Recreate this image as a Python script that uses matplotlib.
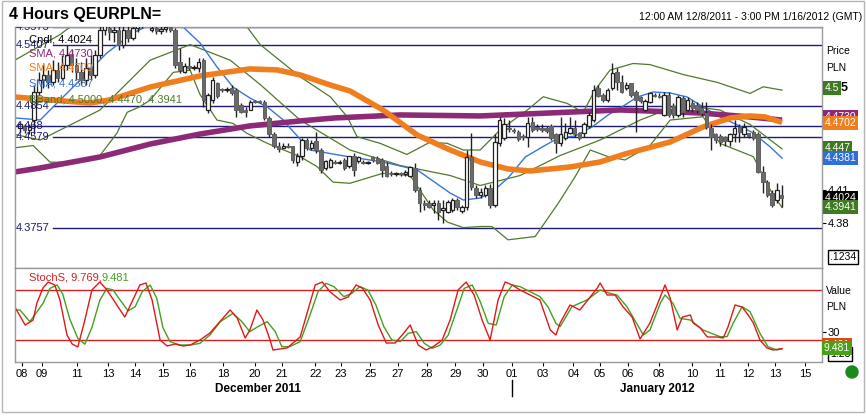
import numpy as np
import matplotlib
matplotlib.use("Agg")
import matplotlib.pyplot as plt
from matplotlib.patches import Rectangle, Ellipse
from matplotlib.lines import Line2D

plt.rcParams['font.family'] = ['Liberation Sans', 'DejaVu Sans']

# ---------------- data ----------------
opens = [4.466,4.468,4.464,4.473,4.498,4.509,4.514,4.507,4.518,4.511,
         4.523,4.532,4.523,4.516,4.509,4.520,4.514,4.532,4.554,4.556,
         4.552,4.554,4.541,4.554,4.547,4.556,4.561,4.568,4.554,4.556,
         4.553,4.555,4.557,4.554,4.525,4.516,4.522,4.520,4.520,4.527,
         4.482,4.491,4.506,4.501,4.500,4.502,4.500,4.487,4.482,4.482,
         4.490,4.490,4.489,4.475,4.460,4.450,4.448,4.450,4.450,4.435,
         4.441,4.455,4.448,4.454,4.446,4.430,4.431,4.435,4.434,4.437,
         4.432,4.441,4.436,4.435,4.434,4.440,4.439,4.437,4.432,4.425,
         4.424,4.425,4.424,4.423,4.430,4.410,4.398,4.398,4.396,4.398,
         4.392,4.390,4.392,4.401,4.391,4.395,4.440,4.412,4.405,4.405,
         4.412,4.396,4.452,4.457,4.466,4.464,4.462,4.459,4.458,4.471,
         4.467,4.466,4.466,4.468,4.460,4.452,4.457,4.461,4.466,4.461,
         4.461,4.468,4.473,4.502,4.496,4.491,4.502,4.516,4.507,4.502,
         4.506,4.498,4.494,4.482,4.489,4.496,4.495,4.478,4.496,4.486,
         4.478,4.493,4.482,4.488,4.487,4.484,4.479,4.466,4.460,4.459,
         4.458,4.454,4.460,4.467,4.460,4.461,4.462,4.460,4.426,4.417,
         4.407,4.401,4.405]
closes = [4.469,4.464,4.467,4.498,4.509,4.514,4.507,4.518,4.511,4.523,
          4.532,4.523,4.516,4.509,4.520,4.514,4.532,4.554,4.559,4.552,
          4.554,4.541,4.554,4.547,4.556,4.561,4.568,4.563,4.556,4.553,
          4.555,4.557,4.554,4.523,4.518,4.522,4.520,4.521,4.525,4.491,
          4.496,4.509,4.495,4.500,4.501,4.497,4.482,4.480,4.480,4.489,
          4.489,4.489,4.475,4.460,4.450,4.447,4.450,4.449,4.437,4.441,
          4.455,4.448,4.452,4.446,4.428,4.436,4.437,4.434,4.435,4.430,
          4.441,4.428,4.440,4.434,4.435,4.437,4.434,4.428,4.423,4.424,
          4.425,4.424,4.426,4.431,4.410,4.398,4.396,4.395,4.398,4.390,
          4.394,4.399,4.401,4.395,4.395,4.440,4.413,4.405,4.408,4.412,
          4.396,4.453,4.473,4.469,4.465,4.463,4.456,4.458,4.470,4.464,
          4.465,4.464,4.463,4.457,4.452,4.460,4.462,4.466,4.460,4.457,
          4.469,4.478,4.500,4.495,4.491,4.500,4.515,4.507,4.498,4.505,
          4.496,4.491,4.490,4.490,4.497,4.495,4.494,4.496,4.478,4.478,
          4.494,4.480,4.491,4.484,4.482,4.479,4.467,4.458,4.455,4.453,
          4.454,4.460,4.466,4.462,4.467,4.459,4.457,4.426,4.417,4.405,
          4.396,4.410,4.4024]
highs = [4.471,4.469,4.469,4.505,4.516,4.523,4.518,4.527,4.525,4.532,
         4.541,4.536,4.529,4.525,4.529,4.532,4.536,4.563,4.568,4.565,
         4.563,4.561,4.559,4.561,4.563,4.570,4.577,4.577,4.561,4.561,
         4.560,4.563,4.563,4.556,4.538,4.524,4.530,4.523,4.529,4.529,
         4.497,4.512,4.507,4.502,4.503,4.505,4.502,4.488,4.485,4.491,
         4.491,4.491,4.491,4.477,4.462,4.453,4.452,4.452,4.450,4.443,
         4.457,4.457,4.455,4.462,4.448,4.437,4.439,4.437,4.437,4.439,
         4.441,4.443,4.441,4.437,4.436,4.441,4.441,4.439,4.435,4.427,
         4.426,4.426,4.428,4.432,4.434,4.413,4.401,4.401,4.401,4.401,
         4.401,4.401,4.403,4.403,4.396,4.446,4.461,4.414,4.412,4.414,
         4.415,4.460,4.476,4.475,4.473,4.466,4.464,4.460,4.476,4.476,
         4.469,4.469,4.468,4.469,4.461,4.476,4.470,4.476,4.473,4.462,
         4.471,4.480,4.505,4.505,4.497,4.502,4.524,4.520,4.514,4.507,
         4.506,4.500,4.495,4.492,4.498,4.497,4.497,4.498,4.498,4.488,
         4.496,4.495,4.494,4.491,4.489,4.489,4.489,4.469,4.461,4.460,
         4.459,4.461,4.473,4.469,4.470,4.461,4.464,4.462,4.432,4.419,
         4.410,4.416,4.414]
lows = [4.462,4.461,4.460,4.460,4.496,4.502,4.502,4.505,4.507,4.509,
        4.518,4.516,4.509,4.505,4.505,4.509,4.511,4.529,4.550,4.545,
        4.543,4.536,4.538,4.543,4.545,4.552,4.556,4.559,4.552,4.551,
        4.551,4.552,4.552,4.520,4.515,4.515,4.518,4.518,4.516,4.485,
        4.479,4.488,4.493,4.498,4.498,4.496,4.476,4.479,4.476,4.482,
        4.488,4.488,4.473,4.458,4.448,4.444,4.448,4.448,4.434,4.432,
        4.437,4.446,4.446,4.443,4.425,4.428,4.430,4.433,4.433,4.428,
        4.430,4.423,4.434,4.433,4.433,4.435,4.433,4.422,4.422,4.423,
        4.423,4.423,4.423,4.422,4.408,4.390,4.392,4.394,4.389,4.383,
        4.380,4.389,4.390,4.392,4.389,4.392,4.410,4.403,4.403,4.404,
        4.394,4.395,4.450,4.455,4.462,4.461,4.454,4.455,4.449,4.462,
        4.463,4.462,4.461,4.455,4.443,4.450,4.455,4.460,4.458,4.455,
        4.458,4.466,4.471,4.494,4.489,4.489,4.500,4.500,4.497,4.500,
        4.494,4.462,4.488,4.481,4.488,4.494,4.493,4.477,4.476,4.475,
        4.476,4.476,4.481,4.480,4.479,4.477,4.465,4.446,4.452,4.450,
        4.450,4.450,4.453,4.453,4.458,4.457,4.455,4.425,4.407,4.404,
        4.395,4.398,4.395]

# long SMA (purple)
sma_long_x = [-1.1, 4.3, 17.0, 27.7, 38.3, 48.9, 59.6, 67.0, 80.9, 97.9, 112.8, 127.7, 144.7, 155.3, 162.1]
sma_long_y = [4.4262, 4.4298, 4.4397, 4.4514, 4.4604, 4.4677, 4.4722, 4.4749, 4.4776, 4.4767, 4.4794, 4.4821, 4.4794, 4.4758, 4.4730]
# mid SMA (orange)
sma_mid_x = [-1.1, 6.4, 14.9, 19.1, 27.7, 38.3, 48.9, 54.7, 59.6, 66.0, 70.2, 77.2, 84.5, 91.5, 97.9,
             103.8, 108.5, 117.0, 123.4, 128.7, 138.3, 145.3, 151.1, 155.3, 158.5, 162.1]
sma_mid_y = [4.4938, 4.4911, 4.4884, 4.4911, 4.5028, 4.5128, 4.5191, 4.5182, 4.5137, 4.5046, 4.4992, 4.4821,
             4.4595, 4.4460, 4.4352, 4.4289, 4.4271, 4.4307, 4.4352, 4.4424, 4.4532, 4.4668, 4.4749, 4.4767,
             4.4758, 4.4709]
# short SMA (blue)
sma_short_x = [-1.1, 4.3, 11.3, 18.5, 24.0, 27.7, 31.9, 34.7, 38.3, 41.9, 45.3, 48.9, 52.6, 56.0, 57.4, 61.7,
               70.2, 77.2, 84.5, 91.5, 94.3, 97.9, 100.4, 103.8, 107.5, 111.1, 114.5, 118.1, 121.7, 125.1,
               128.7, 131.3, 134.7, 138.3, 141.9, 145.3, 148.9, 152.6, 156.0, 159.6, 162.1]
sma_short_y = [4.4749, 4.4731, 4.5028, 4.5335, 4.5515, 4.5588, 4.5633, 4.5569, 4.5425, 4.5209, 4.5028, 4.4929,
               4.4848, 4.4731, 4.4660, 4.4460, 4.4397, 4.4352, 4.4280, 4.4072, 4.4009, 4.4027, 4.4081, 4.4207,
               4.4397, 4.4487, 4.4568, 4.4586, 4.4668, 4.4776, 4.4866, 4.4938, 4.4983, 4.4974, 4.4938, 4.4848,
               4.4758, 4.4686, 4.4613, 4.4487, 4.4387]
# Bollinger bands
bb_up_x = [-1.1, 8.5, 17.0, 34.0, 44.7, 48.3, 51.1, 59.6, 66.0, 69.6, 71.7, 76.6, 82.3, 87.2, 90.9, 94.3, 97.9,
           102.1, 107.9, 111.3, 116.4, 119.8, 122.3, 125.5, 130.4, 134.0, 141.1, 148.3, 155.3, 158.1, 162.1]
bb_up_y = [4.527, 4.550, 4.577, 4.581, 4.568, 4.557, 4.541, 4.512, 4.494, 4.476, 4.458, 4.452, 4.442, 4.453,
           4.452, 4.446, 4.446, 4.464, 4.482, 4.494, 4.488, 4.480, 4.500, 4.518, 4.524, 4.523, 4.514, 4.507,
           4.497, 4.503, 4.500]
bb_mid_x = [-1.1, 4.3, 17.0, 27.7, 36.2, 44.7, 51.1, 59.6, 70.2, 80.9, 91.5, 97.9, 106.4, 114.9, 123.4, 131.9,
            140.4, 148.9, 155.3, 162.1]
bb_mid_y = [4.460, 4.455, 4.482, 4.527, 4.541, 4.527, 4.505, 4.473, 4.446, 4.432, 4.423, 4.414, 4.423, 4.441,
            4.455, 4.473, 4.487, 4.482, 4.469, 4.447]
bb_lo_x = [-1.1, 2.8, 6.4, 10.0, 17.0, 20.6, 22.8, 25.5, 27.7, 32.6, 36.2, 38.3, 41.9, 45.3, 48.3, 52.6, 59.6,
           63.2, 66.6, 70.2, 77.2, 83.0, 87.9, 90.9, 94.3, 97.9, 100.4, 103.8, 109.6, 114.5, 118.1, 121.3,
           125.1, 128.7, 134.0, 138.3, 145.3, 148.9, 156.0, 159.6, 162.1]
bb_lo_y = [4.448, 4.450, 4.435, 4.435, 4.441, 4.461, 4.480, 4.485, 4.491, 4.516, 4.518, 4.496, 4.473, 4.470,
           4.461, 4.452, 4.440, 4.431, 4.417, 4.416, 4.425, 4.423, 4.392, 4.381, 4.376, 4.377, 4.377, 4.365,
           4.368, 4.398, 4.422, 4.446, 4.440, 4.437, 4.450, 4.473, 4.476, 4.452, 4.440, 4.410, 4.3941]

# Stochastics
stk_x = [-1.1, 1.1, 2.8, 3.6, 4.9, 6.0, 7.4, 8.5, 10.0, 11.1, 12.3, 13.8, 15.3, 17.0, 18.5, 20.6, 22.3, 24.0,
         25.5, 26.8, 28.1, 29.8, 31.3, 33.0, 34.7, 36.2, 38.3, 40.4, 41.9, 44.7, 46.2, 47.9, 48.9, 50.4, 51.7,
         53.2, 53.8, 56.8, 59.6, 62.8, 64.3, 66.0, 68.1, 69.8, 71.5, 72.8, 74.5, 76.2, 77.9, 79.8, 81.3, 83.0,
         84.7, 86.4, 88.1, 89.8, 91.5, 93.2, 94.9, 96.6, 98.3, 100.0, 101.7, 103.2, 104.7, 106.4, 108.5, 110.6,
         112.8, 114.0, 114.9, 117.0, 119.1, 122.8, 123.4, 124.9, 126.6, 128.3, 130.2, 131.9, 134.0, 136.2,
         137.2, 138.3, 139.8, 140.9, 142.6, 143.2, 144.7, 146.2, 148.3, 149.6, 150.6, 152.1, 153.6, 154.9,
         156.0, 157.4, 158.9, 160.2, 162.1]
stk_y = [59.6, 38, 44, 64.4, 82.4, 89.6, 86, 68, 26, 15.2, 11.6, 44, 80, 89.6, 80, 62, 47.6, 68, 86, 88.4, 68,
         20, 12.8, 15.2, 12.8, 14, 20, 28.4, 38, 56, 46.4, 22.4, 32, 56, 44, 20, 8, 10.4, 23.6, 86, 89.6, 77.6,
         68, 71.6, 86, 82.4, 68, 38, 16.4, 16.4, 26, 38, 14, 8, 12.8, 20, 44, 80, 89.6, 74, 44, 20, 68, 89.6,
         86, 80, 74, 68, 32, 26, 40.4, 62, 56, 82.4, 88.4, 74, 74, 59.6, 47.6, 21.2, 40.4, 71.6, 86, 70.4, 32,
         47.6, 50, 40.4, 34.4, 23.6, 23.6, 22.4, 35.6, 62, 59.6, 50, 40.4, 20, 10.4, 8, 9.769]
std_x = [-1.1, 0.0, 2.1, 4.9, 6.4, 7.9, 9.1, 10.6, 12.3, 13.8, 15.3, 17.0, 18.5, 19.8, 21.3, 23.0, 24.5, 26.0,
         27.7, 29.1, 30.4, 31.9, 34.0, 36.2, 38.3, 40.4, 42.6, 45.3, 47.2, 48.9, 50.6, 52.6, 54.3, 55.7, 57.4,
         59.6, 61.7, 63.4, 65.1, 66.8, 68.9, 70.6, 72.3, 74.0, 75.7, 77.4, 79.1, 80.9, 82.6, 84.3, 86.0, 87.7,
         89.4, 91.1, 92.8, 94.5, 96.2, 97.9, 99.6, 101.3, 103.0, 104.7, 106.4, 108.5, 110.6, 112.3, 114.0,
         114.9, 117.4, 120.6, 123.4, 125.5, 127.0, 129.1, 132.6, 134.0, 136.2, 137.2, 138.9, 140.4, 142.6,
         145.3, 148.9, 150.4, 151.7, 153.6, 155.3, 157.4, 159.1, 161.0, 162.1]
std_y = [56, 56, 42, 64, 82, 86, 75, 45, 22, 15, 35, 68, 82, 80, 68, 55, 60, 78, 86, 70, 35, 18, 14, 14, 16,
         26, 42, 52, 42, 30, 36, 42, 30, 12, 12, 18, 50, 78, 88, 84, 72, 76, 84, 80, 62, 36, 20, 18, 28, 30,
         16, 10, 14, 26, 54, 82, 86, 66, 40, 38, 72, 86, 84, 78, 72, 60, 40, 36, 60, 68, 80, 76, 74, 60, 26,
         32, 64, 74, 64, 46, 44, 32, 24, 24, 40, 60, 54, 28, 12, 8, 9.481]

levels = [4.5573, 4.5407, 4.4854, 4.468, 4.4579, 4.3757]
level_labels = ['4.5573', '4.5407', '4.4854', '4.468', '4.4579', '4.3757']

day_ticks = [0.4, 4.7, 12.1, 18.7, 24.5, 30.4, 36.2, 43.2, 50.0, 55.7, 62.8, 68.3, 74.5, 80.4, 86.6, 92.6,
             98.5, 104.7, 111.3, 117.7, 123.4, 129.4, 135.9, 143.0, 148.9, 154.9, 160.7, 167.0]
day_labels = ['08', '09', '11', '13', '14', '15', '16', '18', '20', '21', '22', '23', '25', '27', '28', '29',
              '30', '01', '03', '04', '05', '06', '08', '10', '11', '12', '13', '15']
months = ['December 2011', 'January 2012']

# ---------------- figure ----------------
W, H = 866, 417
fig = plt.figure(figsize=(W / 100, H / 100), dpi=100)
fig.patch.set_facecolor('white')

def fx(px):
    return px / W

def fy(py):
    return 1 - py / H

L, R = 15, 822
ax = fig.add_axes([fx(L), fy(268), fx(R) - fx(L), fy(27) - fy(268)])
ax2 = fig.add_axes([fx(L), fy(362), fx(R) - fx(L), fy(268) - fy(362)])

XMIN, XMAX = -1.06, 170.6
for a in (ax, ax2):
    a.set_xlim(XMIN, XMAX)
    for s in a.spines.values():
        s.set_color('#9a9a9a')
        s.set_linewidth(1)
ax.set_ylim(4.3396, 4.5569)
ax2.set_ylim(-6.4, 106.4)

NAVY = '#1c1c78'
# horizontal levels
for lv, lab in zip(levels, level_labels):
    start = 0.0 if lab == '4.468' else 0.047
    ax.axhline(lv, xmin=start, xmax=1, color=NAVY, lw=1.0, zorder=1)
    ax.text(-0.8, lv, lab, color=NAVY, fontsize=8, va='center', ha='left', zorder=6, clip_on=True)

x = np.arange(len(opens))
o = np.array(opens); c = np.array(closes); h = np.array(highs); lo = np.array(lows)
ax.vlines(x, lo, h, color='#202020', lw=1.0, zorder=3)
bw = 0.74
for i in range(len(x)):
    bottom = min(o[i], c[i]); ht = abs(c[i] - o[i])
    if ht < 0.0008:
        ax.hlines((o[i] + c[i]) / 2, x[i] - 0.45, x[i] + 0.45, color='#202020', lw=1.3, zorder=4)
        continue
    if c[i] >= o[i]:
        ax.add_patch(Rectangle((x[i] - bw / 2, bottom), bw, ht, facecolor='white', edgecolor='#202020',
                               lw=0.9, zorder=4))
    else:
        ax.add_patch(Rectangle((x[i] - bw / 2, bottom), bw, ht, facecolor='#6a6a6a', edgecolor='#606060',
                               lw=0.7, zorder=4))

GREEN = '#4f7a28'
ax.plot(bb_up_x, bb_up_y, color=GREEN, lw=0.9, zorder=2)
ax.plot(bb_mid_x, bb_mid_y, color=GREEN, lw=0.9, zorder=2)
ax.plot(bb_lo_x, bb_lo_y, color=GREEN, lw=0.9, zorder=2)
ax.plot(sma_short_x, sma_short_y, color='#3a74d6', lw=1.0, zorder=2)
ax.plot(sma_long_x, sma_long_y, color='#8c2a78', lw=4.0, zorder=2, solid_capstyle='butt')
ax.plot(sma_mid_x, sma_mid_y, color='#f07d1e', lw=4.0, zorder=2, solid_capstyle='butt')

ax.set_xticks([])
ax.yaxis.tick_right()
ax.set_yticks([4.41, 4.38])
ax.set_yticklabels(['4.41', '4.38'])
ax.tick_params(axis='y', length=3, labelsize=8, pad=1, colors='black')

# stochastics
ax2.axhline(80, color='#d42020', lw=1.0)
ax2.axhline(20, color='#d42020', lw=1.0)
ax2.plot(std_x, std_y, color='#43a020', lw=1.0)
ax2.plot(stk_x, stk_y, color='#e01818', lw=1.0)
ax2.yaxis.tick_right()
ax2.set_yticks([30])
ax2.set_yticklabels(['30'])
ax2.tick_params(axis='y', length=3, labelsize=8, pad=1)
ax2.set_xticks(day_ticks)
ax2.set_xticklabels(day_labels)
ax2.tick_params(axis='x', length=3, labelsize=8, pad=2, colors='black')

# ---------------- texts ----------------
fig.text(fx(9), fy(14), '4 Hours QEURPLN=', fontsize=11.5, fontweight='bold', va='center', ha='left')
fig.text(fx(862), fy(17), '12:00 AM 12/8/2011 - 3:00 PM 1/16/2012 (GMT)', fontsize=7.5, va='center', ha='right')

leg = [('Cndl, 4.4024', 'black', 39), ('SMA, 4.4730', '#8c2a78', 53), ('SMA, 4.4709', '#f07d1e', 68),
       ('SMA, 4.4387', '#3a74d6', 84), ('BBand, 4.5000, 4.4470, 4.3941', GREEN, 99)]
for t, col, py in leg:
    fig.text(fx(29), fy(py), t, color=col, fontsize=8, va='center', ha='left', zorder=10)

fig.text(fx(29), fy(278), 'StochS, 9.769,', color='#d42020', fontsize=8, va='center', ha='left')
fig.text(fx(102), fy(278), '9.481', color='#43a020', fontsize=8, va='center', ha='left')

fig.text(fx(826), fy(51), 'Price', fontsize=7.5, va='center')
fig.text(fx(826), fy(68), 'PLN', fontsize=7.5, va='center')
fig.text(fx(826), fy(291), 'Value', fontsize=7.5, va='center')
fig.text(fx(826), fy(307), 'PLN', fontsize=7.5, va='center')

def box(px, py, t, fc, tc='white', ec='none'):
    fig.text(fx(px), fy(py), t, color=tc, fontsize=7.5, va='center', ha='left',
             bbox=dict(boxstyle='square,pad=0.15', facecolor=fc, edgecolor=ec), zorder=20)

box(825, 88, '4.5', '#3f7a22')
fig.text(fx(841), fy(88), '5', fontsize=9, fontweight='bold', va='center')
box(825, 117, '4.4730', '#8c2a78')
box(825, 123, '4.4702', '#f07d1e')
box(825, 148, '4.447', '#3f7a22')
box(825, 158, '4.4381', '#2f6fd8')
box(825, 198, '4.4024', 'black')
box(825, 207, '4.3941', '#3f7a22')
box(830, 257, '.1234', 'white', tc='black', ec='black')
box(830, 354, '1.23', 'white', tc='black', ec='black')
box(824, 345, '9.481', '#d45010')
box(824, 348, '9.481', '#4aa018')

fig.text(fx(258), fy(389), months[0], fontsize=8.5, fontweight='bold', ha='center', va='center')
fig.text(fx(657), fy(389), months[1], fontsize=8.5, fontweight='bold', ha='center', va='center')
fig.add_artist(Line2D([fx(512), fx(512)], [fy(380), fy(396)], color='black', lw=1))
fig.add_artist(Ellipse((fx(852), fy(372)), 12 / W, 12 / H, color='#1a8a1a'))
fig.add_artist(Rectangle((fx(2), fy(412)), fx(864) - fx(2), fy(1) - fy(412), fill=False,
                         edgecolor='#b5b5b5', lw=1))

fig.savefig('out.png', dpi=100)
